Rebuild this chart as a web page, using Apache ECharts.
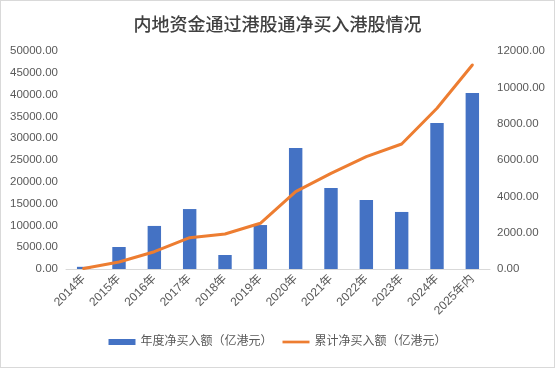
<!DOCTYPE html>
<html><head><meta charset="utf-8">
<script src="https://cdn.jsdelivr.net/npm/echarts@6/dist/echarts.min.js"></script>
<style>html,body{margin:0;padding:0;background:#fff}#c{width:553px;height:366px;border:1px solid #d9d9d9}</style>
</head><body><div id="c"></div>
<script>
const categories = ['2014年','2015年','2016年','2017年','2018年','2019年','2020年','2021年','2022年','2023年','2024年','2025年内'];
const annualNet = [120, 1210, 2370, 3300, 770, 2420, 6660, 4460, 3800, 3140, 8040, 9690];
const cumulativeNet = [120, 1610, 3970, 7180, 8030, 10480, 17730, 21950, 25760, 28670, 36860, 46790];
const seriesNames = ['年度净买入额（亿港元）', '累计净买入额（亿港元）'];
const titleText = '内地资金通过港股通净买入港股情况';

const font = 'Liberation Sans, "Noto Sans CJK SC", sans-serif';
const chart = echarts.init(document.getElementById('c'));
chart.setOption({
  animation: false,
  title: { text: titleText, left: 'center', top: 9,
    textStyle: { fontFamily: '"Noto Sans CJK SC", sans-serif', fontSize: 18, fontWeight: 500, color: '#404040' } },
  legend: { bottom: 14, left: 'center', itemGap: 10, itemWidth: 27, itemHeight: 6,
    textStyle: { fontFamily: font, fontSize: 12, color: '#595959' },
    data: [
      { name: seriesNames[0], icon: 'rect' },
      { name: seriesNames[1], icon: 'path://M0,0 L30,0 L30,3 L0,3 Z' }
    ] },
  grid: { left: 65, right: 64, top: 50, bottom: 98, containLabel: false },
  xAxis: { type: 'category', data: categories,
    axisLine: { lineStyle: { color: '#d9d9d9', width: 1 } },
    axisTick: { show: false },
    axisLabel: { rotate: 45, margin: 8, fontFamily: font, fontSize: 12, color: '#595959', interval: 0 } },
  yAxis: [
    { type: 'value', min: 0, max: 50000, interval: 5000,
      splitLine: { show: false }, axisLine: { show: false }, axisTick: { show: false },
      axisLabel: { fontFamily: font, fontSize: 11.5, color: '#595959', margin: 8, formatter: v => v.toFixed(2) } },
    { type: 'value', min: 0, max: 12000, interval: 2000,
      splitLine: { show: false }, axisLine: { show: false }, axisTick: { show: false },
      axisLabel: { fontFamily: font, fontSize: 11.5, color: '#595959', margin: 7, formatter: v => v.toFixed(2) } }
  ],
  series: [
    { name: seriesNames[0], type: 'bar', yAxisIndex: 1, data: annualNet, barWidth: '38%',
      itemStyle: { color: '#4472C4' } },
    { name: seriesNames[1], type: 'line', yAxisIndex: 0, data: cumulativeNet, symbol: 'none',
      lineStyle: { color: '#ED7D31', width: 3, cap: 'round', join: 'round' }, itemStyle: { color: '#ED7D31' } }
  ]
});
</script></body></html>
